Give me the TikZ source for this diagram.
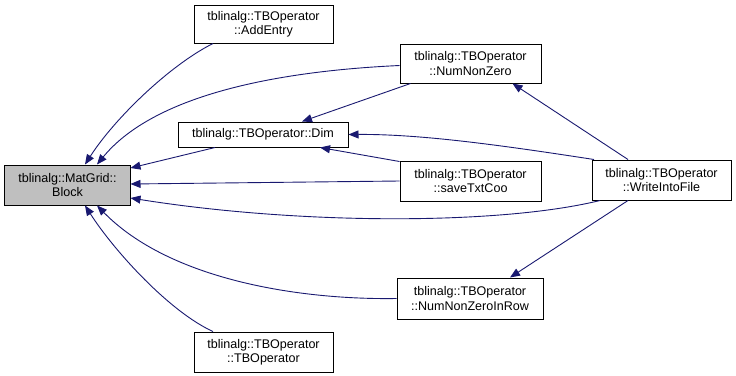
\documentclass[tikz,border=0pt]{standalone}
\usepackage{fontspec}
\setmainfont{Liberation Sans}
\usetikzlibrary{arrows.meta}
\definecolor{edgeblue}{HTML}{191970}
\definecolor{focusgray}{HTML}{BFBFBF}
\begin{document}
\begin{tikzpicture}[x=1bp,y=-1bp,
  fn/.style={draw=black, line width=1bp, fill=white, align=center, inner sep=0pt,
    font=\fontsize{12.6}{14.5}\selectfont, minimum width=139bp, minimum height=40bp},
  focus/.style={fn, fill=focusgray},
  call/.style={draw=edgeblue, line width=0.9bp,
    -{Triangle[length=10bp,width=8bp,fill=edgeblue]}}]
  \useasboundingbox (0,0) rectangle (736,375);

  % function boxes
  \node[focus, minimum width=125bp] (blk) at (67.5,185) {tblinalg::MatGrid::\\Block};
  \node[fn, minimum height=38bp] (add) at (263.5,24) {tblinalg::TBOperator\\::AddEntry};
  \node[fn, minimum width=170bp, minimum height=25bp] (dim) at (263,134.5) {tblinalg::TBOperator::Dim};
  \node[fn, minimum width=141bp, minimum height=39bp] (nnz) at (470.5,63.5) {tblinalg::TBOperator\\::NumNonZero};
  \node[fn, minimum width=141bp] (stc) at (470.5,181) {tblinalg::TBOperator\\::saveTxtCoo};
  \node[fn, minimum width=146bp, minimum height=41bp] (nzr) at (470,298.5) {tblinalg::TBOperator\\::NumNonZeroInRow};
  \node[fn] (wif) at (661.5,180) {tblinalg::TBOperator\\::WriteIntoFile};
  \node[fn] (tbo) at (263.5,352) {tblinalg::TBOperator\\::TBOperator};

  % callers of Block
  \draw[call] ([xshift=-50.5bp]add.south) .. controls (170,65) and (115,118) .. ([xshift=17.5bp]blk.north);
  \draw[call] ([yshift=-2bp]nnz.west) .. controls (260,72) and (150,100) .. ([xshift=29.5bp]blk.north);
  \draw[call] ([xshift=-48bp]dim.south) -- ([yshift=17bp]blk.east);
  \draw[call] (stc.west) -- ([yshift=1bp]blk.east);
  \draw[call] ([xshift=-61.5bp]wif.south) .. controls (500,225) and (300,225) .. ([yshift=-13bp]blk.east);
  \draw[call] (nzr.west) .. controls (300,300) and (170,280) .. ([xshift=29.5bp]blk.south);
  \draw[call] ([xshift=-50.5bp]tbo.north) .. controls (170,312) and (115,252) .. ([xshift=17.5bp]blk.south);

  % callers of Dim
  \draw[call] ([xshift=-60bp]nnz.south) -- ([xshift=39bp]dim.north);
  \draw[call] ([yshift=-1bp]stc.north west) -- ([xshift=57bp]dim.south);
  \draw[call] ([xshift=-67.5bp]wif.north) .. controls (500,145) and (420,134) .. (dim.east);

  % WriteIntoFile to the counting functions
  \draw[call] ([xshift=-33.5bp]wif.north) -- ([xshift=42bp]nnz.south);
  \draw[call] ([xshift=-33.5bp]wif.south) -- ([xshift=40bp]nzr.north);
\end{tikzpicture}
\end{document}
